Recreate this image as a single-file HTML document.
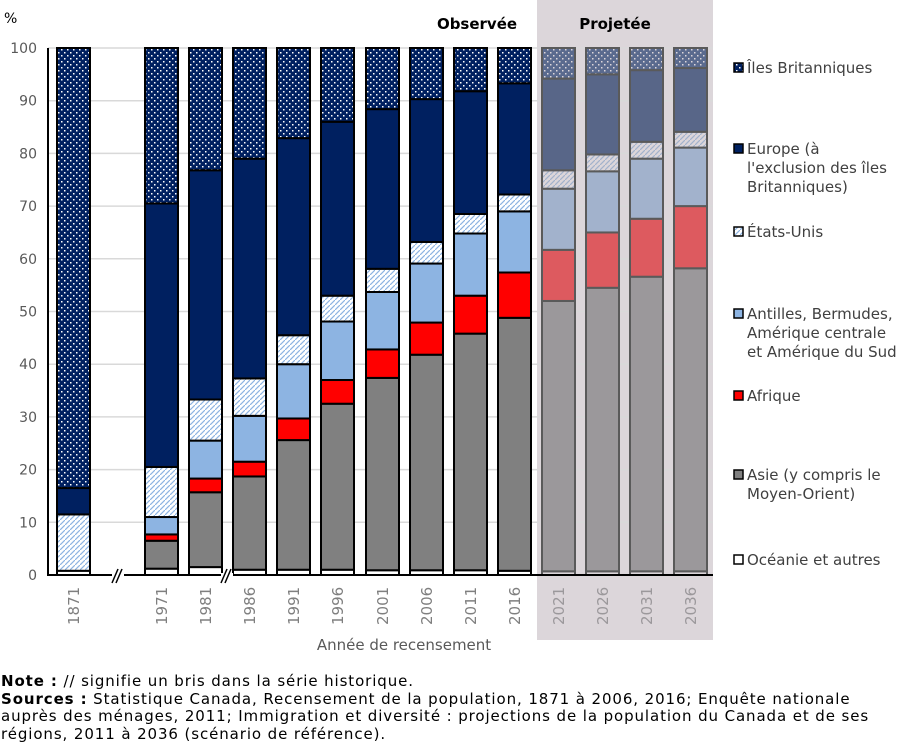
<!DOCTYPE html>
<html><head><meta charset="utf-8"><style>
body{margin:0;background:#fff;width:913px;height:751px;overflow:hidden;font-family:"DejaVu Sans","Liberation Sans",sans-serif}
.note{position:absolute;left:1px;top:673px;font-size:15px;letter-spacing:0.9px;line-height:17.5px;color:#000;white-space:nowrap}
</style></head><body>
<svg id="s" width="913" height="670" style="position:absolute;left:0;top:0" font-family="DejaVu Sans, Liberation Sans, sans-serif">
<defs>
<pattern id="dots" width="6" height="6" patternUnits="userSpaceOnUse"><rect width="6" height="6" fill="#002060"/><rect x="1" y="1" width="1.5" height="1.5" fill="#fff"/><rect x="4" y="4" width="1.5" height="1.5" fill="#fff"/></pattern>
<pattern id="dotsP" width="6" height="6" patternUnits="userSpaceOnUse"><rect width="6" height="6" fill="#5a6a8e"/><rect x="1" y="1" width="1.5" height="1.5" fill="#dcd6da"/><rect x="4" y="4" width="1.5" height="1.5" fill="#dcd6da"/></pattern>
<pattern id="hatch" width="5" height="5" patternUnits="userSpaceOnUse"><rect width="5" height="5" fill="#fff"/><path d="M-1,6 L6,-1" stroke="#8db4e2" stroke-width="1.2"/></pattern>
<pattern id="hatchP" width="5" height="5" patternUnits="userSpaceOnUse"><rect width="5" height="5" fill="#dcd6da"/><path d="M-1,6 L6,-1" stroke="#a2b2cc" stroke-width="1.2"/></pattern>
</defs>
<rect x="537" y="0" width="176" height="640" fill="#dcd6da"/>
<g id="g"></g>
</svg>
<div class="note"><b>Note :</b> // signifie un bris dans la série historique.<br><b>Sources :</b> Statistique Canada, Recensement de la population, 1871 à 2006, 2016; Enquête nationale<br>auprès des ménages, 2011; Immigration et diversité : projections de la population du Canada et de ses<br>régions, 2011 à 2036 (scénario de référence).</div>
<script>
const g=document.getElementById('g');let h='';
const Y=v=>575-v*5.27;
for(let i=0;i<=10;i++){const y=Y(i*10);if(i>0)h+=`<line x1="48" x2="713" y1="${y}" y2="${y}" stroke="#d9d9d9" stroke-width="1.5"/>`;
h+=`<text x="37" y="${y+5}" font-size="14" fill="#595959" text-anchor="end">${i*10}</text>`;}
h+=`<text x="4" y="23" font-size="14" fill="#000">%</text>`;
const data=[["1871",57,[0.8,0.8,0.8,0.8,11.5,16.5]],["1971",145,[1.2,6.5,7.7,11,20.5,70.5]],["1981",189,[1.5,15.7,18.3,25.5,33.3,76.8]],["1986",233,[1.0,18.7,21.5,30.2,37.3,79]],["1991",277,[1,25.6,29.7,40,45.5,82.9]],["1996",321,[1,32.5,37,48.1,53,86]],["2001",366,[0.9,37.4,42.8,53.7,58.1,88.4]],["2006",410,[0.9,41.8,47.9,59.1,63.2,90.3]],["2011",454,[0.9,45.8,53,64.8,68.5,91.8]],["2016",498,[0.8,48.8,57.4,69,72.2,93.3]],["2021",542,[0.7,52,61.7,73.3,76.8,94.2]],["2026",586,[0.7,54.5,65,76.6,79.8,95]],["2031",630,[0.7,56.6,67.6,79,82.2,95.8]],["2036",674,[0.7,58.2,70,81.1,84.1,96.2]]];
const cO=["#fff","#808080","#ff0000","#8db4e2","url(#hatch)","#002060","url(#dots)"];
const cP=["#dcd6da","#9b989b","#dd5a5f","#a2b2cc","url(#hatchP)","#586688","url(#dotsP)"];
data.forEach(([lab,x,b],k)=>{const p=k>=10;const cols=p?cP:cO;const st=p?"#5a5a5a":"#000";
let prev=0;const bs=[...b,100];bs.forEach((v,j)=>{if(v-prev>0.01){h+=`<rect x="${x}" y="${Y(v)}" width="33" height="${Y(prev)-Y(v)}" fill="${cols[j]}" stroke="${st}" stroke-width="2"/>`;}prev=v;});
h+=`<text transform="translate(${x+22},625) rotate(-90)" font-size="15" fill="${p?'#9b989b':'#7f7f7f'}">${lab}</text>`;});
h+=`<line x1="48" x2="48" y1="48" y2="576" stroke="#000" stroke-width="2"/><line x1="47" x2="713" y1="575" y2="575" stroke="#000" stroke-width="2"/>`;
[[118,575],[227,575]].forEach(([x,y])=>{h+=`<rect x="${x-6}" y="${y-2}" width="12" height="6" fill="#fff"/><line x1="${x-6}" y1="${y+8}" x2="${x}" y2="${y-6}" stroke="#000" stroke-width="1.5"/><line x1="${x-2}" y1="${y+8}" x2="${x+4}" y2="${y-6}" stroke="#000" stroke-width="1.5"/>`;});
h+=`<text x="404" y="650" font-size="15" fill="#595959" text-anchor="middle">Année de recensement</text>`;
h+=`<text x="477" y="29" font-size="15" font-weight="bold" text-anchor="middle">Observée</text><text x="615" y="29" font-size="15" font-weight="bold" text-anchor="middle">Projetée</text>`;
const leg=[[68,"url(#dots)",["Îles Britanniques"]],[149,"#002060",["Europe (à","l'exclusion des îles","Britanniques)"]],[232,"url(#hatch)",["États-Unis"]],[314,"#8db4e2",["Antilles, Bermudes,","Amérique centrale","et Amérique du Sud"]],[396,"#ff0000",["Afrique"]],[475,"#808080",["Asie (y compris le","Moyen-Orient)"]],[560,"#fff",["Océanie et autres"]]];
leg.forEach(([y,c,t])=>{h+=`<rect x="734" y="${y-5}" width="9" height="9" fill="${c}" stroke="#000" stroke-width="1.5"/>`;t.forEach((s,i)=>{h+=`<text x="747" y="${y+5+i*19}" font-size="15" fill="#404040">${s}</text>`;});});
g.innerHTML=h;
</script>
</body></html>
